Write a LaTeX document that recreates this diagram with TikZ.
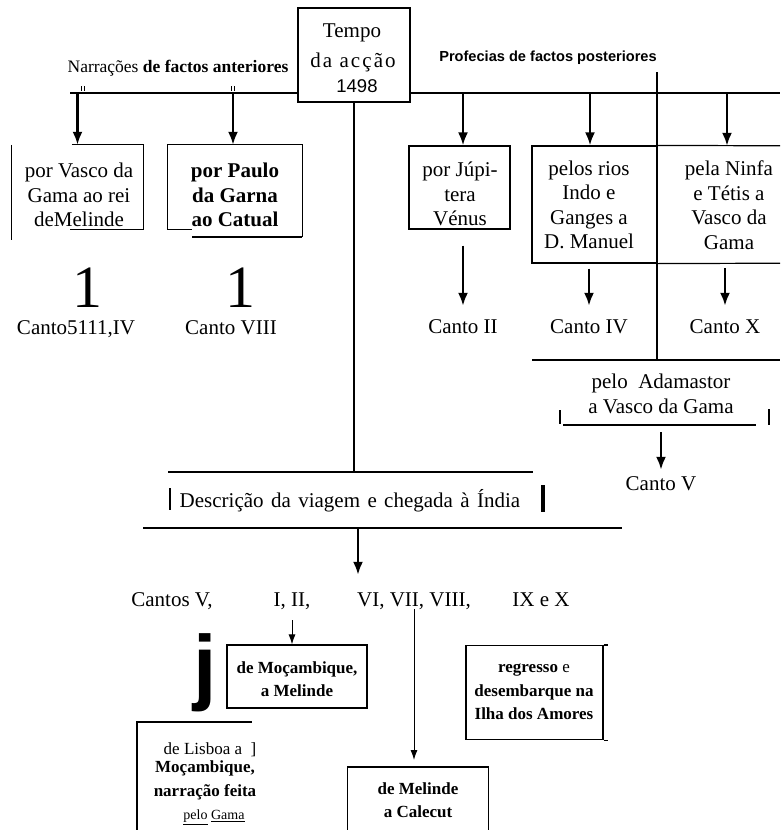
\documentclass[tikz,border=0pt]{standalone}
\usepackage{fontspec}
\setmainfont{Liberation Serif}
\setsansfont{Liberation Sans}
\usetikzlibrary{arrows.meta}
\newcommand\myfA{\fontsize{21}{24.5}\selectfont}
\newcommand\myfB{\fontsize{17}{23.5}\selectfont}
\newcommand\myfC{\fontsize{14}{16}\selectfont}
\newcommand\myfN{\fontsize{17.5}{20}\selectfont}
\newcommand\myfP{\fontsize{14.6}{17}\selectfont\sffamily\bfseries}
\newcommand\myfS{\fontsize{18.5}{20}\selectfont\sffamily}
\newcommand\myfBig{\fontsize{60}{60}\selectfont}
\newcommand\myfJ{\fontsize{84}{84}\selectfont\sffamily\bfseries}
\begin{document}
\begin{tikzpicture}[x=1pt,y=-1pt,
  ln/.style={line width=1.2pt},
  arr/.style={line width=2.4pt,-{Latex[length=13pt,width=10pt]}},
  sarr/.style={line width=1pt,-{Latex[length=10pt,width=7pt]}},
  txt/.style={inner sep=0pt,align=center,font=\myfA},
  stxt/.style={inner sep=0pt,font=\myfA,text height=17pt,text depth=3pt},
  btxt/.style={inner sep=0pt,align=center,font=\myfB\bfseries},
  box/.style={inner sep=0pt,draw,line width=1.2pt}]
\useasboundingbox (0,0) rectangle (780,830);
\fill[white] (0,0) rectangle (780,830);

% Tempo box
\node[box, minimum width=112pt, minimum height=94pt] (tempo) at (354,55) {};
\node[txt] (tempo1) at (352,33) {Tempo};
\node[txt, font={\myfA\addfontfeature{LetterSpace=10}}] (tempo2) at (353,62) {da acção};
\node[inner sep=0pt, font=\myfS] (tempo3) at (357,86) {1498};

% headings
\node[inner sep=0pt, font=\myfN] (narr) at (178,68) {Narrações \textbf{de factos anteriores}};
\node[inner sep=0pt, font=\myfP] (prof) at (548,58) {Profecias de factos posteriores};

% main horizontal line
\coordinate (hl) at (70,93);
\coordinate (hr) at (780,93);
\draw[ln] (hl) -- (hl -| tempo.west);
\draw[ln] (tempo.east |- hr) -- (hr);
\foreach \x in {81,84,231,234} \draw[line width=0.8pt] (\x,86) -- (\x,91);

% box 1
\node[inner sep=0pt, minimum width=131pt, minimum height=84pt] (b1) at (77.5,187) {};
\node[txt] (b1t) at (79,195) {por Vasco da\\Gama ao rei\\deMelinde};
\draw[ln] (b1.north west) -- ++(0,95);
\draw[ln] (b1.north west) ++(60,0) -- (b1.north east) -- (b1.south east) -- ++(-73,0);
\draw[arr] (hl -| b1.north) -- (b1.north);

% box 2
\node[inner sep=0pt, minimum width=134pt, minimum height=84pt] (b2) at (235,187) {};
\node[txt, font=\myfA\bfseries] (b2t) at (235,195) {por Paulo\\da Garna\\ao Catual};
\draw[ln] (b2.south west) ++(24,0) -- (b2.south west) -- (b2.north west) -- (b2.north east) -- ++(0,92);
\draw[line width=2.4pt] (b2.south east) ++(0,8) -- ++(-110,0);
\coordinate (a2) at (233,93);
\draw[arr] (a2) -- (a2 |- b2.north);

\node[inner sep=0pt, font=\myfBig] (one1) at (87,288) {1};
\node[inner sep=0pt, font=\myfBig] (one2) at (240,288) {1};
\node[stxt] (cA) at (76,327) {Canto5111,IV};
\node[stxt] (cB) at (231,327) {Canto VIII};

% central vertical
\coordinate (c1) at (354,472);
\draw[ln] (tempo.south) -- (c1);

% right side
\coordinate (vtop) at (657,72);
\coordinate (vbot) at (657,360);
\draw[ln] (vtop) -- (vbot);
\node[box, minimum width=101pt, minimum height=83pt] (bj) at (459.5,187.5) {};
\node[txt] (bjt) at (460,194) {por Júpi-\\tera\\Vénus};
\node[box, minimum width=125pt, minimum height=117pt] (bi) at (594.5,204.5) {};
\node[inner sep=0pt, minimum width=123pt, minimum height=117pt] (bn) at (718.5,204.5) {};
\draw[ln] (bi.north east) -- (bn.north east);
\draw[ln] (bi.south east) -- (bn.south east);
\node[txt] (bit) at (589,205) {pelos rios\\Indo e\\Ganges a\\D. Manuel};
\node[txt] (bnt) at (729,205) {pela Ninfa\\e Tétis a\\Vasco da\\Gama};
\coordinate (aj) at (463,93);
\coordinate (ai) at (590,93);
\coordinate (an) at (727,93);
\draw[arr] (aj) -- (aj |- bj.north);
\draw[arr] (ai) -- (ai |- bi.north);
\draw[arr] (an) -- (an |- bn.north);

\node[stxt] (cII) at (463,326) {Canto II};
\node[stxt] (cIV) at (589,326) {Canto IV};
\node[stxt] (cX) at (725,326) {Canto X};
\draw[arr, shorten <=16pt, shorten >=10pt] (bj.south -| cII.north) -- (cII.north);
\draw[arr, shorten <=5pt, shorten >=10pt] (bi.south -| cIV.north) -- (cIV.north);
\draw[arr, shorten <=5pt, shorten >=10pt] (bn.south -| cX.north) -- (cX.north);

\coordinate (h3l) at (532,360);
\coordinate (h3r) at (780,360);
\draw[ln] (h3l) -- (h3r);

% Adamastor
\node[txt] (ad) at (661,394) {pelo\ \ Adamastor\\a Vasco da Gama};
\coordinate (adl) at (563,425);
\coordinate (adr) at (756,425);
\draw[ln] (adl) -- (adr);
\draw[line width=2.5pt] (560,410) -- (560,424);
\draw[line width=2.5pt] (769,409) -- (769,425);
\node[stxt] (cV) at (661,483) {Canto V};
\draw[arr, shorten <=7pt, shorten >=3pt] (adl -| cV.north) -- (cV.north);

% Descricao
\coordinate (dl1) at (168,472);
\coordinate (dr1) at (533,472);
\draw[ln] (dl1) -- (dr1);
\node[stxt] (desc) at (350,500) {\spaceskip=7.4pt plus 2pt minus 1pt Descrição da viagem e chegada à Índia};
\draw[line width=1.5pt] (170,488) -- (170,510);
\draw[line width=3.5pt] (543,485) -- (543,512);
\coordinate (dl2) at (143,528);
\coordinate (dr2) at (622,528);
\draw[ln] (dl2) -- (dr2);

% cantos row
\node[stxt] (k1) at (172,599) {Cantos V,};
\node[stxt] (k2) at (292,599) {I, II,};
\node[stxt] (k3) at (414,599) {VI, VII, VIII,};
\node[stxt] (k4) at (541,599) {IX e X};
\coordinate (dA) at (358,528);
\draw[arr, shorten >=14pt] (dA) -- (dA |- k3.north);

% Mocambique box
\node[box, minimum width=140pt, minimum height=63pt] (mo) at (297,676.5) {};
\node[btxt] (mot) at (297,679) {de Moçambique,\\a Melinde};
\draw[sarr, shorten <=11pt] (k2.south) -- (k2.south |- mo.north);

\node[inner sep=0pt, font=\myfJ] (jj) at (205,673) {j};

% Lisboa
\coordinate (lt1) at (137,722);
\coordinate (lt2) at (252,722);
\coordinate (lb) at (137,830);
\draw[ln] (lb) -- (lt1) -- (lt2);
\node[inner sep=0pt, font=\myfB] (lis1) at (210,750) {de Lisboa a\ \ ]};
\node[inner sep=0pt, font=\myfB\bfseries] (lis2) at (205,768) {Moçambique,};
\node[inner sep=0pt, font=\myfB\bfseries] (lis3) at (205,792) {narração feita};
\node[inner sep=0pt, font=\myfC] (lis4) at (214,817) {\underline{pelo} \underline{Gama}};

% Calecut
\node[inner sep=0pt, minimum width=140pt, minimum height=70pt, anchor=north] (mc) at (418,767) {};
\draw[ln] (mc.south west) -- (mc.north west) -- (mc.north east) -- (mc.south east);
\node[btxt] (mct) at (418,800) {de Melinde\\a Calecut};
\draw[sarr, shorten >=7pt] (k3.south) -- (k3.south |- mc.north);

% regresso
\node[box, minimum width=137pt, minimum height=94pt] (rg) at (534.5,692.5) {};
\draw[ln] (rg.north east) -- ++(4,0);
\draw[ln] (rg.south east) -- ++(4,0);
\node[btxt] (rgt) at (534,692) {regresso {\mdseries e}\\desembarque na\\Ilha dos Amores};
\end{tikzpicture}
\end{document}
